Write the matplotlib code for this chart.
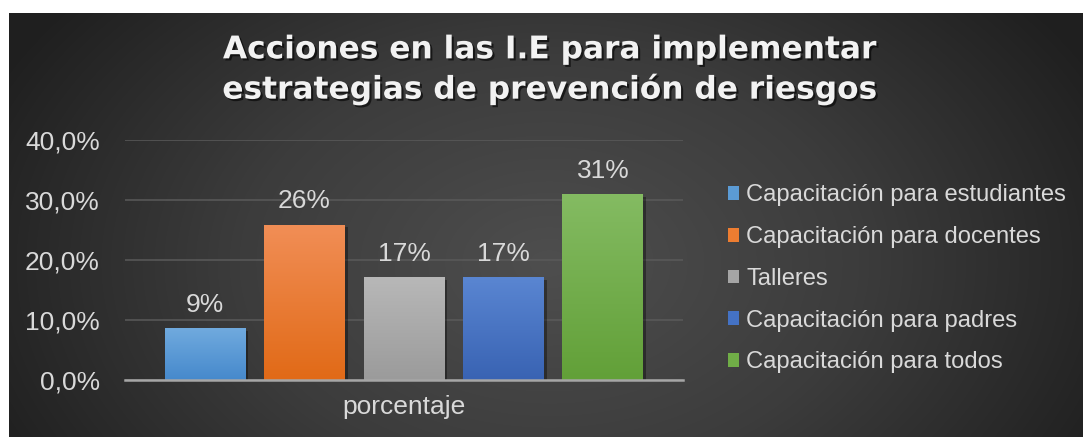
import numpy as np
import matplotlib.pyplot as plt
import matplotlib.patheffects as pe
from matplotlib.patches import Rectangle
from matplotlib.ticker import FuncFormatter
from matplotlib.colors import LinearSegmentedColormap

# data
categories = ["Capacitación para estudiantes", "Capacitación para docentes", "Talleres",
              "Capacitación para padres", "Capacitación para todos"]
values = [0.086, 0.259, 0.172, 0.172, 0.31]
group_label = "porcentaje"
title = "Acciones en las I.E para implementar\nestrategias de prevención de riesgos"

colors = ["#5b9bd5", "#ed7d31", "#a5a5a5", "#4472c4", "#70ad47"]
tops = ["#70aade", "#f18e56", "#b8b8b8", "#5a86d2", "#84bb62"]
bottoms = ["#4689cc", "#e16a17", "#9b9b9b", "#3963b3", "#62a038"]
text_col = "#d9d9d9"

plt.rcParams['font.family'] = ['Liberation Sans', 'DejaVu Sans']

W, H = 1083, 437
fig = plt.figure(figsize=(W / 100, H / 100), dpi=100, facecolor="white")

# radial dark background
bg = fig.add_axes([9 / W, 0, (W - 9) / W, (H - 13) / H], zorder=-10)
yy, xx = np.mgrid[0:424, 0:1074]
r = np.sqrt(((xx - 540) / 620) ** 2 + ((yy - 250) / 420) ** 2)
r = np.clip(r, 0, 1)
cmap_bg = LinearSegmentedColormap.from_list("bg", ["#4e4e4e", "#3c3c3c", "#1f1f1f"])
bg.imshow(r, cmap=cmap_bg, vmin=0, vmax=1, aspect="auto", interpolation="bilinear")
bg.axis("off")

ax = fig.add_axes([125 / W, 57 / H, 558 / W, 240 / H])
ax.set_facecolor("none")

x = np.arange(len(values)) - 2
bars = ax.bar(x, values, width=0.814, color=colors, zorder=3,
              path_effects=[pe.SimplePatchShadow(offset=(2, -2), shadow_rgbFace="black", alpha=0.35),
                            pe.Normal()])
for b, t, bt in zip(bars, tops, bottoms):
    cm = LinearSegmentedColormap.from_list("g", [bt, t])
    grad = np.linspace(0, 1, 100).reshape(-1, 1)
    x0, y0 = b.get_x(), b.get_y()
    im = ax.imshow(grad, cmap=cm, origin="lower", aspect="auto", zorder=4,
                   extent=[x0, x0 + b.get_width(), y0, y0 + b.get_height()])
    im.set_clip_path(b)

ax.bar_label(bars, labels=[f"{v * 100:.0f}%" for v in values], padding=8,
             fontsize=19, color=text_col)

ax.set_xlim(-2.805, 2.805)
ax.set_ylim(0, 0.4)
ax.set_yticks([0, 0.1, 0.2, 0.3, 0.4])
ax.yaxis.set_major_formatter(FuncFormatter(lambda v, p: f"{v * 100:.1f}%".replace(".", ",")))
ax.set_xticks([0])
ax.set_xticklabels([group_label])
ax.tick_params(axis="y", length=0, pad=18, labelsize=19, labelcolor=text_col)
ax.tick_params(axis="x", length=0, pad=11, labelsize=19, labelcolor=text_col)
ax.grid(axis="y", color="#5a5a5a", linewidth=1.1, zorder=0)
for s in ["top", "right", "left"]:
    ax.spines[s].set_visible(False)
ax.spines["bottom"].set_color("#a6a6a6")
ax.spines["bottom"].set_linewidth(1.8)
ax.spines["bottom"].set_zorder(5)

fig.text(550 / W, (H - 70) / H, title, ha="center", va="center", fontsize=22.5,
         fontweight="bold", color="#f2f2f2", family="DejaVu Sans", linespacing=1.4,
         path_effects=[pe.withSimplePatchShadow(offset=(1.5, -1.5), shadow_rgbFace="black", alpha=0.6)])

handles = [Rectangle((0, 0), 1, 1, facecolor=c) for c in colors]
fig.legend(handles, categories, loc="upper left", bbox_to_anchor=(718 / W, (H - 175) / H),
           frameon=False, fontsize=17.1, labelcolor=text_col, handlelength=0.5, handleheight=0.5,
           handletextpad=0.3, labelspacing=0.83, borderaxespad=0)

fig.savefig("out.png", dpi=100, facecolor=fig.get_facecolor())
